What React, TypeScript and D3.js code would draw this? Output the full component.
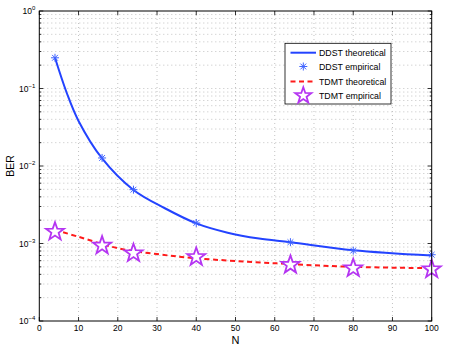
import React, { useEffect, useRef } from 'react';
import * as d3 from 'd3';

// values
const empiricalN = [4, 16, 24, 40, 64, 80, 100];
const ddstEmpirical = [0.249, 0.0127, 0.00495, 0.00184, 0.00104, 0.00081, 0.000716];
const tdmtEmpirical = [0.00142, 0.00094, 0.00075, 0.00067, 0.00053, 0.00048, 0.000465];

const ddstTheoryN = [4, 7, 10, 16, 24, 32, 40, 48, 56, 64, 80, 100];
const ddstTheory = [0.249, 0.0875, 0.0381, 0.0125, 0.0049, 0.00285, 0.00182, 0.00138, 0.00116, 0.00104, 0.00082, 0.0007];

const tdmtTheoryN = [4, 10, 20, 30, 40, 60, 80, 100];
const tdmtTheory = [0.0015, 0.00122, 0.00087, 0.00073, 0.000645, 0.000556, 0.0005, 0.00048];

const xTicks = [0, 10, 20, 30, 40, 50, 60, 70, 80, 90, 100];
const yExponents = [-4, -3, -2, -1, 0];
const legendLabels = ['DDST theoretical', 'DDST empirical', 'TDMT theoretical', 'TDMT empirical'];

const BLUE = '#2343ff';
const STAR = '#b535f2';
const FONT = 'Liberation Sans, Arial, Helvetica, sans-serif';

const starPath = (cx: number, cy: number, r: number) => {
  const pts: string[] = [];
  for (let i = 0; i < 10; i++) {
    const rad = i % 2 === 0 ? r : r * 0.4;
    const a = -Math.PI / 2 + (i * Math.PI) / 5;
    pts.push(`${cx + rad * Math.cos(a)},${cy + rad * Math.sin(a)}`);
  }
  return `M${pts.join('L')}Z`;
};

const asteriskPath = (cx: number, cy: number, r: number) => {
  const d = r * 0.72;
  return (
    `M${cx - r},${cy}L${cx + r},${cy}M${cx},${cy - r}L${cx},${cy + r}` +
    `M${cx - d},${cy - d}L${cx + d},${cy + d}M${cx - d},${cy + d}L${cx + d},${cy - d}`
  );
};

const App = () => {
  const chartRef = useRef<HTMLDivElement>(null);

  useEffect(() => {
    const width = 450;
    const height = 349;
    const left = 39.3;
    const right = 431.7;
    const top = 11;
    const bottom = 321;

    d3.select(chartRef.current).selectAll('*').remove();

    const svg = d3
      .select(chartRef.current)
      .append('svg')
      .attr('width', width)
      .attr('height', height)
      .style('display', 'block')
      .style('font-family', FONT);

    svg.append('rect').attr('width', width).attr('height', height).attr('fill', '#fff');

    const x = d3.scaleLinear().domain([0, 100]).range([left, right]);
    const y = d3.scaleLog().domain([1e-4, 1]).range([bottom, top]);

    // grid
    const grid = svg.append('g').attr('stroke', '#b4b4b4').attr('stroke-width', 0.8).attr('stroke-dasharray', '1,3');
    xTicks
      .filter((t) => t > 0 && t < 100)
      .forEach((t) => {
        grid.append('line').attr('x1', x(t)).attr('x2', x(t)).attr('y1', top).attr('y2', bottom);
      });
    const yMinor: number[] = [];
    yExponents.slice(0, -1).forEach((e) => {
      for (let k = 1; k <= 9; k++) yMinor.push(k * Math.pow(10, e));
    });
    yMinor
      .filter((v) => v > 1e-4)
      .forEach((v) => {
        grid.append('line').attr('x1', left).attr('x2', right).attr('y1', y(v)).attr('y2', y(v));
      });

    // ticks (inward)
    const ticks = svg.append('g').attr('stroke', '#000').attr('stroke-width', 0.8);
    xTicks.forEach((t) => {
      ticks.append('line').attr('x1', x(t)).attr('x2', x(t)).attr('y1', bottom).attr('y2', bottom - 4);
      ticks.append('line').attr('x1', x(t)).attr('x2', x(t)).attr('y1', top).attr('y2', top + 4);
    });
    yMinor.forEach((v, i) => {
      const len = i % 9 === 0 ? 4 : 2;
      ticks.append('line').attr('x1', left).attr('x2', left + len).attr('y1', y(v)).attr('y2', y(v));
      ticks.append('line').attr('x1', right).attr('x2', right - len).attr('y1', y(v)).attr('y2', y(v));
    });
    ticks.append('line').attr('x1', left).attr('x2', left + 4).attr('y1', y(1)).attr('y2', y(1));
    ticks.append('line').attr('x1', right).attr('x2', right - 4).attr('y1', y(1)).attr('y2', y(1));

    // tick labels
    xTicks.forEach((t) => {
      svg
        .append('text')
        .attr('x', x(t))
        .attr('y', bottom + 10)
        .attr('text-anchor', 'middle')
        .attr('font-size', 8.5)
        .attr('fill', '#000')
        .text(t);
    });
    yExponents.forEach((e) => {
      const txt = svg
        .append('text')
        .attr('x', left - 4)
        .attr('y', y(Math.pow(10, e)) + 3)
        .attr('text-anchor', 'end')
        .attr('font-size', 8.5)
        .attr('fill', '#000');
      txt.append('tspan').text('10');
      txt
        .append('tspan')
        .attr('dy', -4)
        .attr('font-size', 6)
        .text(e === 0 ? '0' : `\u2212${-e}`);
    });

    // axis labels
    svg
      .append('text')
      .attr('x', (left + right) / 2)
      .attr('y', 344)
      .attr('text-anchor', 'middle')
      .attr('font-size', 11)
      .text('N');
    svg
      .append('text')
      .attr('transform', `translate(14,${(top + bottom) / 2}) rotate(-90)`)
      .attr('text-anchor', 'middle')
      .attr('font-size', 10.5)
      .text('BER');

    const line = d3
      .line<[number, number]>()
      .x((d) => x(d[0]))
      .y((d) => y(d[1]))
      .curve(d3.curveCatmullRom.alpha(0.5));

    const plot = svg.append('g');

    plot
      .append('path')
      .attr('d', line(ddstTheoryN.map((n, i) => [n, ddstTheory[i]] as [number, number])))
      .attr('fill', 'none')
      .attr('stroke', BLUE)
      .attr('stroke-width', 2);

    plot
      .append('path')
      .attr('d', line(tdmtTheoryN.map((n, i) => [n, tdmtTheory[i]] as [number, number])))
      .attr('fill', 'none')
      .attr('stroke', '#ff1a1a')
      .attr('stroke-width', 2)
      .attr('stroke-dasharray', '5,3.5');

    empiricalN.forEach((n, i) => {
      plot
        .append('path')
        .attr('d', asteriskPath(x(n), y(ddstEmpirical[i]), 4))
        .attr('stroke', '#3f63ff')
        .attr('stroke-width', 1)
        .attr('fill', 'none');
    });

    empiricalN.forEach((n, i) => {
      plot
        .append('path')
        .attr('d', starPath(x(n), y(tdmtEmpirical[i]), 9.5))
        .attr('stroke', STAR)
        .attr('stroke-width', 1.8)
        .attr('stroke-linejoin', 'miter')
        .attr('fill', '#fff');
    });

    // axes box
    svg
      .append('rect')
      .attr('x', left)
      .attr('y', top)
      .attr('width', right - left)
      .attr('height', bottom - top)
      .attr('fill', 'none')
      .attr('stroke', '#000')
      .attr('stroke-width', 1);

    // legend
    const lg = svg.append('g');
    lg.append('rect')
      .attr('x', 285)
      .attr('y', 43.3)
      .attr('width', 106)
      .attr('height', 60.7)
      .attr('fill', '#fff')
      .attr('stroke', '#000')
      .attr('stroke-width', 0.8);
    const rowY = [52.7, 66.5, 81.5, 95.7];
    legendLabels.forEach((label, i) => {
      const yy = rowY[i];
      if (i === 0) {
        lg.append('line').attr('x1', 290.5).attr('x2', 316).attr('y1', yy).attr('y2', yy).attr('stroke', BLUE).attr('stroke-width', 2);
      } else if (i === 1) {
        lg.append('path').attr('d', asteriskPath(303.3, yy, 4)).attr('stroke', '#3f63ff').attr('stroke-width', 1).attr('fill', 'none');
      } else if (i === 2) {
        lg.append('line')
          .attr('x1', 290.5)
          .attr('x2', 316)
          .attr('y1', yy)
          .attr('y2', yy)
          .attr('stroke', '#ff1a1a')
          .attr('stroke-width', 2)
          .attr('stroke-dasharray', '5,3.5');
      } else {
        lg.append('path').attr('d', starPath(303.3, yy, 8.5)).attr('stroke', STAR).attr('stroke-width', 1.8).attr('fill', '#fff');
      }
      lg.append('text')
        .attr('x', 319)
        .attr('y', yy + 3)
        .attr('font-size', 8.8)
        .attr('fill', '#000')
        .text(label);
    });
  }, []);

  return <div ref={chartRef} style={{ position: 'absolute', left: 0, top: 0 }}></div>;
};

export default App;
